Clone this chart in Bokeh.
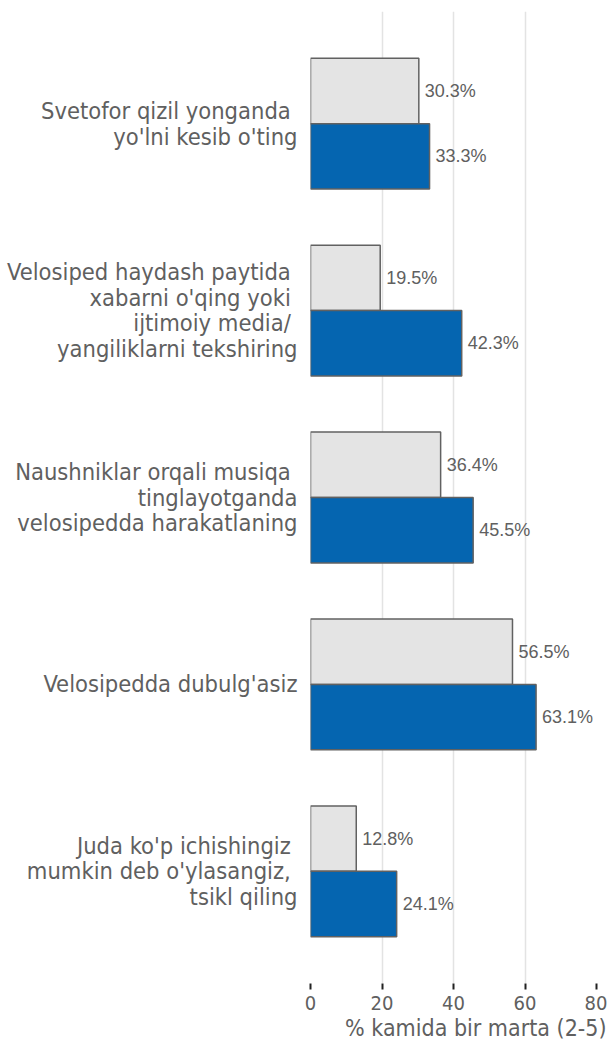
from bokeh.plotting import figure
from bokeh.models import ColumnDataSource, Range1d, FixedTicker, Title
from bokeh.core.properties import value
from bokeh.embed import file_html
from bokeh.resources import INLINE

categories = [
    "Svetofor qizil yonganda \nyo'lni kesib o'ting",
    "Velosiped haydash paytida \nxabarni o'qing yoki \nijtimoiy media/ \nyangiliklarni tekshiring",
    "Naushniklar orqali musiqa \ntinglayotganda\nvelosipedda harakatlaning",
    "Velosipedda dubulg'asiz",
    "Juda ko'p ichishingiz \nmumkin deb o'ylasangiz, \ntsikl qiling",
]
grey_values = [30.3, 19.5, 36.4, 56.5, 12.8]
blue_values = [33.3, 42.3, 45.5, 63.1, 24.1]
x_ticks = [0, 20, 40, 60, 80]
x_label = "% kamida bir marta (2-5)"

LABEL_FONT = "DejaVu Sans Condensed"
idx = list(range(len(categories)))
bar_h = 0.35

grey_src = ColumnDataSource(dict(
    y=[i - bar_h / 2 for i in idx], v=grey_values,
    t=[f"{v:.1f}%" for v in grey_values]))
blue_src = ColumnDataSource(dict(
    y=[i + bar_h / 2 for i in idx], v=blue_values,
    t=[f"{v:.1f}%" for v in blue_values]))

p = figure(width=607, height=1040, output_backend="svg", toolbar_location=None,
           x_range=Range1d(0, 80), y_range=Range1d(len(categories) - 0.4, -0.6),
           min_border_left=310, min_border_right=11, min_border_top=11,
           min_border_bottom=0)
p.outline_line_color = None
p.background_fill_color = "white"

p.hbar(y="y", left=0, right="v", height=bar_h, source=grey_src,
       fill_color="#e4e4e4", line_color="#616161", line_width=1.5)
p.hbar(y="y", left=0, right="v", height=bar_h, source=blue_src,
       fill_color="#0565b0", line_color="#616161", line_width=1.5)

for src in (grey_src, blue_src):
    p.text(x="v", y="y", text="t", source=src, x_offset=6,
           text_baseline="middle", text_align="left",
           text_font=value("Liberation Sans"), text_font_size="18px",
           text_color="#606060")

# x axis
p.xaxis.ticker = FixedTicker(ticks=x_ticks)
p.xaxis.axis_line_color = None
p.xaxis.major_tick_out = 6
p.xaxis.major_tick_in = 0
p.xaxis.major_tick_line_color = "#222222"
p.xaxis.major_tick_line_width = 2
p.xaxis.minor_tick_line_color = None
p.xaxis.major_label_text_font = LABEL_FONT
p.xaxis.major_label_text_font_size = "20px"
p.xaxis.major_label_text_color = "#606060"
p.xaxis.major_label_standoff = 6

# y axis
p.yaxis.ticker = FixedTicker(ticks=idx)
p.yaxis.major_label_overrides = {i: c for i, c in zip(idx, categories)}
p.yaxis.axis_line_color = None
p.yaxis.major_tick_line_color = None
p.yaxis.major_tick_out = 0
p.yaxis.major_tick_in = 0
p.yaxis.minor_tick_line_color = None
p.yaxis.major_label_standoff = 13
p.yaxis.major_label_text_font = LABEL_FONT
p.yaxis.major_label_text_font_size = "23.5px"
p.yaxis.major_label_text_line_height = 0.92
p.yaxis.major_label_text_color = "#606060"
p.yaxis.major_label_text_align = "right"

p.ygrid.grid_line_color = None
p.xgrid.ticker = FixedTicker(ticks=x_ticks)
p.xgrid.grid_line_color = "#e3e3e3"
p.xgrid.grid_line_width = 1.5

p.add_layout(Title(text=x_label, align="right", text_font=LABEL_FONT,
                   text_font_size="23px", text_color="#606060",
                   text_font_style="normal", standoff=0, offset=-10), "below")

open("out.html", "w").write(file_html(p, INLINE))
